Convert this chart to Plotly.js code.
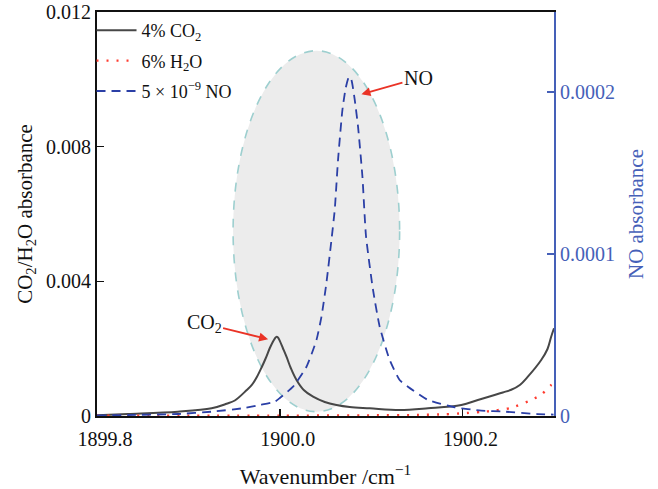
<!DOCTYPE html>
<html>
<head>
<meta charset="utf-8">
<script src="https://cdn.plot.ly/plotly-3.0.1.min.js"></script>
<style>html,body{margin:0;padding:0;background:#fff;}#chart{width:658px;height:489px;}</style>
</head>
<body>
<div id="chart"></div>
<script>
// ---- data ----
const seriesNames = ["4% CO<sub>2</sub>", "6% H<sub>2</sub>O", "5 × 10<sup>−9</sup> NO"];

const co2Wavenumber = [1899.8000, 1899.8339, 1899.8885, 1899.9254, 1899.9417, 1899.9508, 1899.9639, 1899.9694, 1899.9749, 1899.9803, 1899.9847, 1899.9891, 1899.9923, 1899.9945, 1899.9962, 1899.9980, 1900.0000, 1900.0033, 1900.0073, 1900.0120, 1900.0183, 1900.0262, 1900.0364, 1900.0492, 1900.0620, 1900.0765, 1900.0984, 1900.1311, 1900.1621, 1900.1986, 1900.2167, 1900.2350, 1900.2440, 1900.2532, 1900.2630, 1900.2714, 1900.2860, 1900.2929, 1900.2969, 1900.3000];
const co2Absorbance = [0.000021, 0.000059, 0.000128, 0.000229, 0.000362, 0.000460, 0.000772, 0.000921, 0.001158, 0.001455, 0.001723, 0.002020, 0.002200, 0.002300, 0.002350, 0.002330, 0.002230, 0.002020, 0.001761, 0.001426, 0.001069, 0.000772, 0.000573, 0.000416, 0.000327, 0.000267, 0.000229, 0.000178, 0.000229, 0.000327, 0.000475, 0.000624, 0.000700, 0.000780, 0.000930, 0.001167, 0.001663, 0.001990, 0.002355, 0.002605];

const h2oWavenumber = [1899.80, 1900.00, 1900.10, 1900.15, 1900.18, 1900.20, 1900.22, 1900.235, 1900.253, 1900.272, 1900.286, 1900.297, 1900.300];
const h2oAbsorbance = [0.00001, 0.00001, 0.00002, 0.00003, 0.00005, 0.00008, 0.00012, 0.00016, 0.00024, 0.00044, 0.00063, 0.00092, 0.00096];

const noWavenumber = [1899.8000, 1899.8339, 1899.8885, 1899.9254, 1899.9617, 1899.9781, 1899.9945, 1900.0000, 1900.0145, 1900.0292, 1900.0401, 1900.0456, 1900.0510, 1900.0565, 1900.0601, 1900.0637, 1900.0685, 1900.0721, 1900.0757, 1900.0784, 1900.0820, 1900.0856, 1900.0904, 1900.0943, 1900.1020, 1900.1093, 1900.1202, 1900.1311, 1900.1402, 1900.1621, 1900.1913, 1900.2204, 1900.2459, 1900.2820, 1900.2995];
const noAbsorbance = [3.1e-7, 6.2e-7, 1.23e-6, 2.65e-6, 4.94e-6, 6.79e-6, 8.83e-6, 1.11e-5, 1.81e-5, 3.04e-5, 4.69e-5, 6.13e-5, 8.21e-5, 1.086e-4, 1.272e-4, 1.580e-4, 1.889e-4, 2.025e-4, 2.095e-4, 2.074e-4, 1.951e-4, 1.786e-4, 1.477e-4, 1.111e-4, 7.78e-5, 5.51e-5, 3.46e-5, 2.22e-5, 1.81e-5, 9.9e-6, 5.4e-6, 3.3e-6, 2.7e-6, 1.2e-6, 9e-7];

const xTickVals = [1899.8, 1900.0, 1900.2];
const xTickText = ["1899.8", "1900.0", "1900.2"];
const yTickVals = [0, 0.004, 0.008, 0.012];
const yTickText = ["0", "0.004", "0.008", "0.012"];
const y2TickVals = [0, 0.0001, 0.0002];
const y2TickText = ["0", "0.0001", "0.0002"];

// ---- styling ----
const BLUE_AXIS = "#4560b8";
const BLUE_LINE = "#2b3fa6";
const FONT = "Liberation Serif, Times New Roman, serif";

const traces = [
  {x: co2Wavenumber, y: co2Absorbance, name: seriesNames[0], type: "scatter", mode: "lines",
   line: {color: "#474747", width: 2, shape: "spline", smoothing: 1}, legendgroup: "a"},
  {x: h2oWavenumber, y: h2oAbsorbance, name: seriesNames[1], type: "scatter", mode: "lines",
   line: {color: "#ff3b2f", width: 2.4, dash: "2px,8px", shape: "spline", smoothing: 0.6}, legendgroup: "b"},
  {x: noWavenumber, y: noAbsorbance, name: seriesNames[2], type: "scatter", mode: "lines", yaxis: "y2",
   line: {color: BLUE_LINE, width: 1.8, dash: "9px,6px", shape: "spline", smoothing: 0.5}, legendgroup: "c"}
];

const layout = {
  width: 658, height: 489,
  margin: {l: 97, r: 104, t: 12, b: 73, pad: 0, autoexpand: false},
  paper_bgcolor: "#ffffff", plot_bgcolor: "#ffffff",
  font: {family: FONT, size: 20, color: "#111"},
  showlegend: true,
  legend: {x: -0.012, y: 1.0, xanchor: "left", yanchor: "top", bgcolor: "rgba(0,0,0,0)",
           font: {family: FONT, size: 18, color: "#111"}, tracegroupgap: 4, traceorder: "grouped",
           itemwidth: 40},
  xaxis: {
    range: [1899.8, 1900.3], tickmode: "array", tickvals: xTickVals, ticktext: xTickText,
    ticks: "inside", ticklen: 7, tickwidth: 1.5, tickcolor: "#111",
    showline: true, linecolor: "#111", linewidth: 2, mirror: true,
    showgrid: false, zeroline: false, layer: "below traces", automargin: true,
    tickfont: {family: FONT, size: 20, color: "#111"}, ticklabelshift: 8, ticklabelstandoff: 4,
    title: {text: "Wavenumber /cm<sup>−1</sup>", font: {family: FONT, size: 22, color: "#111"}, standoff: 21}
  },
  yaxis: {
    range: [0, 0.012], tickmode: "array", tickvals: yTickVals, ticktext: yTickText,
    ticks: "inside", ticklen: 7, tickwidth: 1.5, tickcolor: "#111",
    showline: true, linecolor: "#111", linewidth: 2, mirror: false,
    showgrid: false, zeroline: false,
    tickfont: {family: FONT, size: 20, color: "#111"},
    title: {text: "CO<sub>2</sub>/H<sub>2</sub>O absorbance", font: {family: FONT, size: 21, color: "#111"}, standoff: 8}
  },
  yaxis2: {
    overlaying: "y", side: "right", anchor: "x",
    range: [0, 0.0002494], tickmode: "array", tickvals: y2TickVals, ticktext: y2TickText,
    ticks: "inside", ticklen: 7, tickwidth: 1.5, tickcolor: BLUE_AXIS,
    showline: true, linecolor: BLUE_AXIS, linewidth: 2,
    showgrid: false, zeroline: false,
    tickfont: {family: FONT, size: 20, color: BLUE_AXIS},
    title: {text: "NO absorbance", font: {family: FONT, size: 21, color: BLUE_AXIS}, standoff: 14}
  },
  shapes: [{
    type: "circle", xref: "x", yref: "y", layer: "below",
    x0: 1899.9489, x1: 1900.1311, y0: 0.000128, y1: 0.01085,
    fillcolor: "#ececec", line: {color: "#9dcfcf", width: 1.6, dash: "dash"}
  }],
  annotations: [
    {x: 1900.0893, y: 0.00956, xref: "x", yref: "y", text: "NO", showarrow: true,
     arrowhead: 2, arrowsize: 1, arrowwidth: 1.8, arrowcolor: "#ea3326", ax: 57, ay: -16,
     font: {family: FONT, size: 20, color: "#111"}},
    {x: 1899.9872, y: 0.002278, xref: "x", yref: "y", text: "CO<sub>2</sub>", showarrow: true,
     arrowhead: 2, arrowsize: 1, arrowwidth: 1.8, arrowcolor: "#ea3326", ax: -64, ay: -16,
     font: {family: FONT, size: 20, color: "#111"}}
  ]
};

Plotly.newPlot("chart", traces, layout, {displayModeBar: false, staticPlot: true});
</script>
</body>
</html>
